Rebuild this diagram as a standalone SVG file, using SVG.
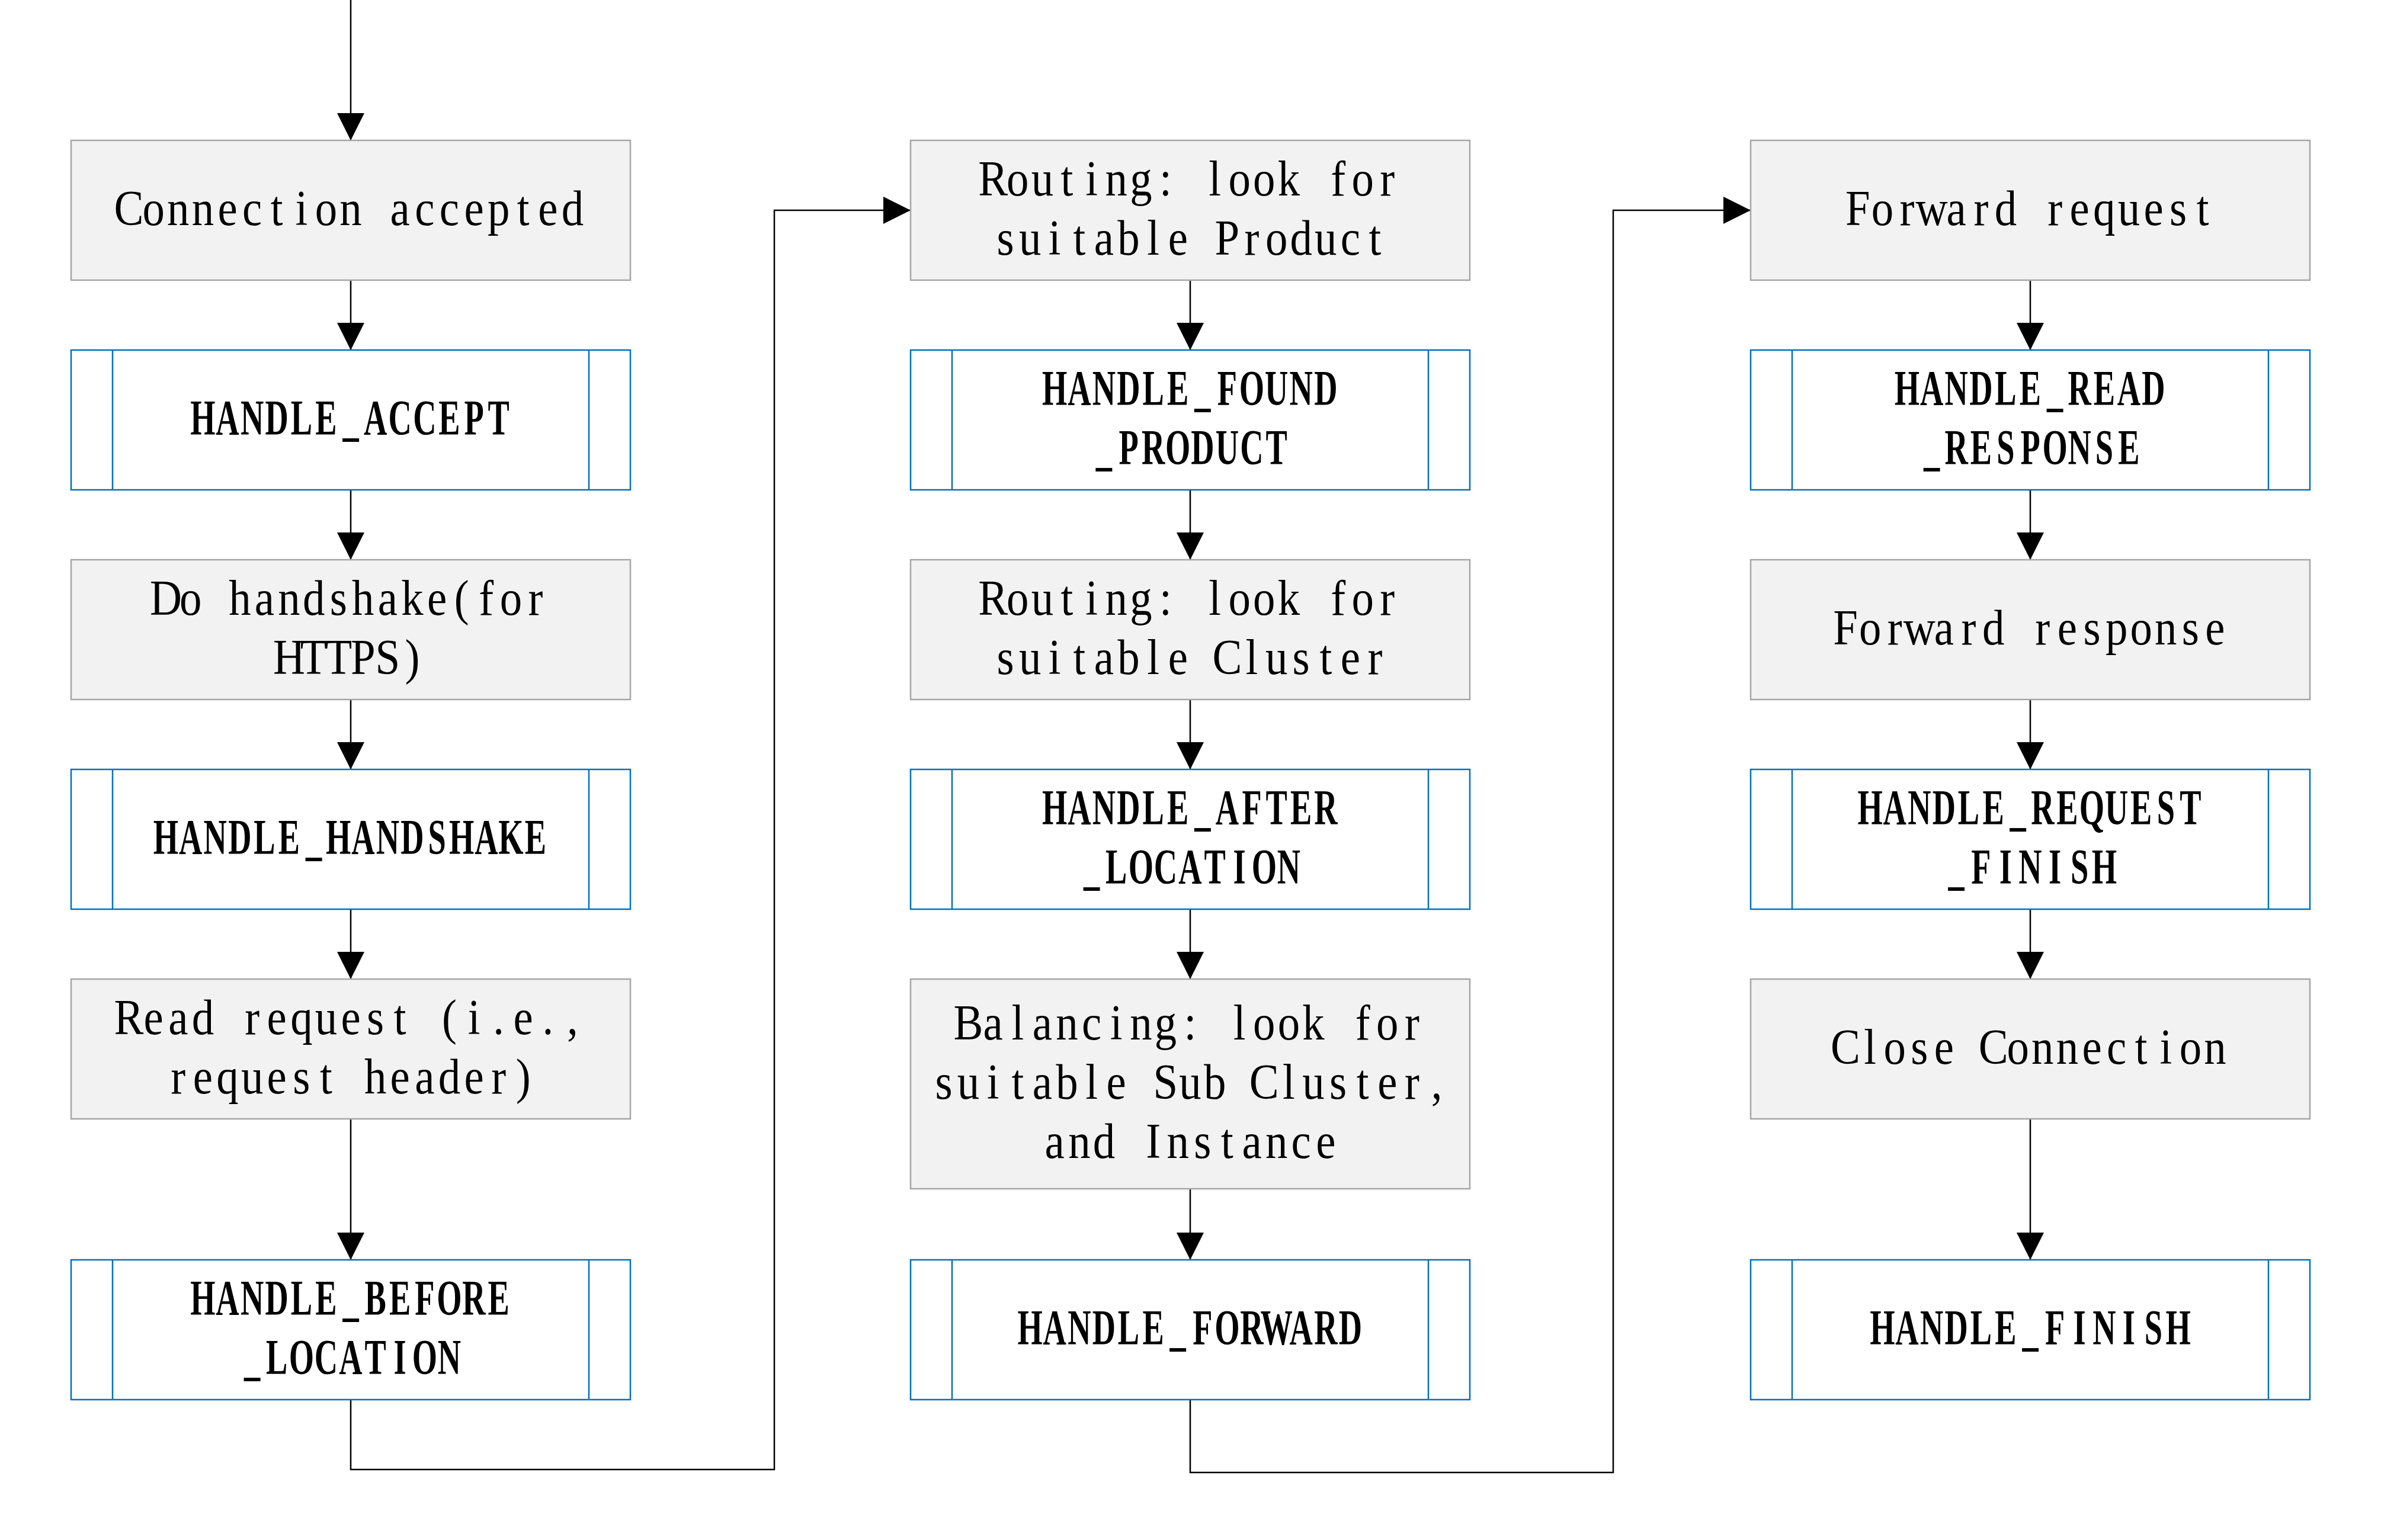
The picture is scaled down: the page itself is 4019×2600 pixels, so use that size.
<svg xmlns="http://www.w3.org/2000/svg" width="4019" height="2600" viewBox="0 0 4019 2600">
<style>
.g{fill:#F2F2F2;stroke:#A6A6A6;stroke-width:2.5}
.b{fill:#FFFFFF;stroke:#0070C0;stroke-width:2.5}
.bl{stroke:#0070C0;stroke-width:2.5}
.t{font-family:"Liberation Serif","Times New Roman",serif;font-size:85px;text-anchor:middle;fill:#000}
.tb{font-family:"Liberation Serif","Times New Roman",serif;font-size:85px;font-weight:bold;text-anchor:middle;fill:#000}
.c{fill:none;stroke:#000;stroke-width:2.5}
</style>
<defs>
<marker id="ah" markerUnits="userSpaceOnUse" markerWidth="46" markerHeight="46" refX="45" refY="22.5" orient="auto" viewBox="0 0 45 45">
<path d="M0,0 L45,22.5 L0,45 Z" fill="#000"/>
</marker>
</defs>
<rect width="4019" height="2600" fill="#FFFFFF"/>

<g id="connectors">
<path class="c" d="M592,0 V237" marker-end="url(#ah)"/>
<path class="c" d="M592,473 V591" marker-end="url(#ah)"/>
<path class="c" d="M592,827 V945" marker-end="url(#ah)"/>
<path class="c" d="M592,1181 V1299" marker-end="url(#ah)"/>
<path class="c" d="M592,1535 V1653" marker-end="url(#ah)"/>
<path class="c" d="M592,1889 V2127" marker-end="url(#ah)"/>
<path class="c" d="M592,2363 V2481 H1307 V355 H1537" marker-end="url(#ah)"/>
<path class="c" d="M2009,473 V591" marker-end="url(#ah)"/>
<path class="c" d="M2009,827 V945" marker-end="url(#ah)"/>
<path class="c" d="M2009,1181 V1299" marker-end="url(#ah)"/>
<path class="c" d="M2009,1535 V1653" marker-end="url(#ah)"/>
<path class="c" d="M2009,2007 V2127" marker-end="url(#ah)"/>
<path class="c" d="M2009,2363 V2486 H2723 V355 H2955" marker-end="url(#ah)"/>
<path class="c" d="M3427,473 V591" marker-end="url(#ah)"/>
<path class="c" d="M3427,827 V945" marker-end="url(#ah)"/>
<path class="c" d="M3427,1181 V1299" marker-end="url(#ah)"/>
<path class="c" d="M3427,1535 V1653" marker-end="url(#ah)"/>
<path class="c" d="M3427,1889 V2127" marker-end="url(#ah)"/>
</g>

<!-- Column 1 -->
<g id="connection-accepted">
<rect class="g" x="120" y="237" width="944" height="236"/>
<text class="t" transform="translate(592,380) scale(0.88,1)" x="-425.5 -378.2 -330.9 -283.7 -236.4 -189.1 -141.8 -94.5 -47.3 0 47.3 94.5 141.8 189.1 236.4 283.7 330.9 378.2 425.5" y="0">Connection accepted</text>
</g>
<g id="handle-accept">
<rect class="b" x="120" y="591" width="944" height="236"/>
<line class="bl" x1="190" y1="591" x2="190" y2="827"/>
<line class="bl" x1="994" y1="591" x2="994" y2="827"/>
<text class="tb" transform="translate(592,734) scale(0.64,1)" x="-390 -325 -260 -195 -130 -65 0 65 130 195 260 325 390" y="0">HANDLE_ACCEPT</text>
</g>
<g id="do-handshake">
<rect class="g" x="120" y="945" width="944" height="236"/>
<text class="t" transform="translate(592,1038) scale(0.88,1)" x="-354.5 -307.3 -260 -212.7 -165.5 -118.2 -70.9 -23.6 23.6 70.9 118.2 165.5 212.7 260 307.3 354.5" y="0">Do handshake(for</text>
<text class="t" transform="translate(592,1138) scale(0.88,1)" x="-118.2 -70.9 -23.6 23.6 70.9 118.2" y="0">HTTPS)</text>
</g>
<g id="handle-handshake">
<rect class="b" x="120" y="1299" width="944" height="236"/>
<line class="bl" x1="190" y1="1299" x2="190" y2="1535"/>
<line class="bl" x1="994" y1="1299" x2="994" y2="1535"/>
<text class="tb" transform="translate(592,1442) scale(0.64,1)" x="-487.5 -422.5 -357.5 -292.5 -227.5 -162.5 -97.5 -32.5 32.5 97.5 162.5 227.5 292.5 357.5 422.5 487.5" y="0">HANDLE_HANDSHAKE</text>
</g>
<g id="read-request">
<rect class="g" x="120" y="1653" width="944" height="236"/>
<text class="t" transform="translate(592,1746) scale(0.88,1)" x="-425.5 -378.2 -330.9 -283.7 -236.4 -189.1 -141.8 -94.5 -47.3 0 47.3 94.5 141.8 189.1 236.4 283.7 330.9 378.2 425.5" y="0">Read request (i.e.,</text>
<text class="t" transform="translate(592,1846) scale(0.88,1)" x="-330.9 -283.7 -236.4 -189.1 -141.8 -94.5 -47.3 0 47.3 94.5 141.8 189.1 236.4 283.7 330.9" y="0">request header)</text>
</g>
<g id="handle-before-location">
<rect class="b" x="120" y="2127" width="944" height="236"/>
<line class="bl" x1="190" y1="2127" x2="190" y2="2363"/>
<line class="bl" x1="994" y1="2127" x2="994" y2="2363"/>
<text class="tb" transform="translate(592,2220) scale(0.64,1)" x="-390 -325 -260 -195 -130 -65 0 65 130 195 260 325 390" y="0">HANDLE_BEFORE</text>
<text class="tb" transform="translate(592,2320) scale(0.64,1)" x="-260 -195 -130 -65 0 65 130 195 260" y="0">_LOCATION</text>
</g>

<!-- Column 2 -->
<g id="routing-product">
<rect class="g" x="1537" y="237" width="944" height="236"/>
<text class="t" transform="translate(2009,330) scale(0.88,1)" x="-378.2 -330.9 -283.7 -236.4 -189.1 -141.8 -94.5 -47.3 0 47.3 94.5 141.8 189.1 236.4 283.7 330.9 378.2" y="0">Routing: look for</text>
<text class="t" transform="translate(2009,430) scale(0.88,1)" x="-354.5 -307.3 -260 -212.7 -165.5 -118.2 -70.9 -23.6 23.6 70.9 118.2 165.5 212.7 260 307.3 354.5" y="0">suitable Product</text>
</g>
<g id="handle-found-product">
<rect class="b" x="1537" y="591" width="944" height="236"/>
<line class="bl" x1="1607" y1="591" x2="1607" y2="827"/>
<line class="bl" x1="2411" y1="591" x2="2411" y2="827"/>
<text class="tb" transform="translate(2009,684) scale(0.64,1)" x="-357.5 -292.5 -227.5 -162.5 -97.5 -32.5 32.5 97.5 162.5 227.5 292.5 357.5" y="0">HANDLE_FOUND</text>
<text class="tb" transform="translate(2009,784) scale(0.64,1)" x="-227.5 -162.5 -97.5 -32.5 32.5 97.5 162.5 227.5" y="0">_PRODUCT</text>
</g>
<g id="routing-cluster">
<rect class="g" x="1537" y="945" width="944" height="236"/>
<text class="t" transform="translate(2009,1038) scale(0.88,1)" x="-378.2 -330.9 -283.7 -236.4 -189.1 -141.8 -94.5 -47.3 0 47.3 94.5 141.8 189.1 236.4 283.7 330.9 378.2" y="0">Routing: look for</text>
<text class="t" transform="translate(2009,1138) scale(0.88,1)" x="-354.5 -307.3 -260 -212.7 -165.5 -118.2 -70.9 -23.6 23.6 70.9 118.2 165.5 212.7 260 307.3 354.5" y="0">suitable Cluster</text>
</g>
<g id="handle-after-location">
<rect class="b" x="1537" y="1299" width="944" height="236"/>
<line class="bl" x1="1607" y1="1299" x2="1607" y2="1535"/>
<line class="bl" x1="2411" y1="1299" x2="2411" y2="1535"/>
<text class="tb" transform="translate(2009,1392) scale(0.64,1)" x="-357.5 -292.5 -227.5 -162.5 -97.5 -32.5 32.5 97.5 162.5 227.5 292.5 357.5" y="0">HANDLE_AFTER</text>
<text class="tb" transform="translate(2009,1492) scale(0.64,1)" x="-260 -195 -130 -65 0 65 130 195 260" y="0">_LOCATION</text>
</g>
<g id="balancing">
<rect class="g" x="1537" y="1653" width="944" height="354"/>
<text class="t" transform="translate(2009,1755) scale(0.88,1)" x="-425.5 -378.2 -330.9 -283.7 -236.4 -189.1 -141.8 -94.5 -47.3 0 47.3 94.5 141.8 189.1 236.4 283.7 330.9 378.2 425.5" y="0">Balancing: look for</text>
<text class="t" transform="translate(2009,1855) scale(0.88,1)" x="-472.7 -425.5 -378.2 -330.9 -283.7 -236.4 -189.1 -141.8 -94.5 -47.3 0 47.3 94.5 141.8 189.1 236.4 283.7 330.9 378.2 425.5 472.7" y="0">suitable Sub Cluster,</text>
<text class="t" transform="translate(2009,1955) scale(0.88,1)" x="-260 -212.7 -165.5 -118.2 -70.9 -23.6 23.6 70.9 118.2 165.5 212.7 260" y="0">and Instance</text>
</g>
<g id="handle-forward">
<rect class="b" x="1537" y="2127" width="944" height="236"/>
<line class="bl" x1="1607" y1="2127" x2="1607" y2="2363"/>
<line class="bl" x1="2411" y1="2127" x2="2411" y2="2363"/>
<text class="tb" transform="translate(2009,2270) scale(0.64,1)" x="-422.5 -357.5 -292.5 -227.5 -162.5 -97.5 -32.5 32.5 97.5 162.5 227.5 292.5 357.5 422.5" y="0">HANDLE_FORWARD</text>
</g>

<!-- Column 3 -->
<g id="forward-request">
<rect class="g" x="2955" y="237" width="944" height="236"/>
<text class="t" transform="translate(3427,380) scale(0.88,1)" x="-330.9 -283.7 -236.4 -189.1 -141.8 -94.5 -47.3 0 47.3 94.5 141.8 189.1 236.4 283.7 330.9" y="0">Forward request</text>
</g>
<g id="handle-read-response">
<rect class="b" x="2955" y="591" width="944" height="236"/>
<line class="bl" x1="3025" y1="591" x2="3025" y2="827"/>
<line class="bl" x1="3829" y1="591" x2="3829" y2="827"/>
<text class="tb" transform="translate(3427,684) scale(0.64,1)" x="-325 -260 -195 -130 -65 0 65 130 195 260 325" y="0">HANDLE_READ</text>
<text class="tb" transform="translate(3427,784) scale(0.64,1)" x="-260 -195 -130 -65 0 65 130 195 260" y="0">_RESPONSE</text>
</g>
<g id="forward-response">
<rect class="g" x="2955" y="945" width="944" height="236"/>
<text class="t" transform="translate(3427,1088) scale(0.88,1)" x="-354.5 -307.3 -260 -212.7 -165.5 -118.2 -70.9 -23.6 23.6 70.9 118.2 165.5 212.7 260 307.3 354.5" y="0">Forward response</text>
</g>
<g id="handle-request-finish">
<rect class="b" x="2955" y="1299" width="944" height="236"/>
<line class="bl" x1="3025" y1="1299" x2="3025" y2="1535"/>
<line class="bl" x1="3829" y1="1299" x2="3829" y2="1535"/>
<text class="tb" transform="translate(3427,1392) scale(0.64,1)" x="-422.5 -357.5 -292.5 -227.5 -162.5 -97.5 -32.5 32.5 97.5 162.5 227.5 292.5 357.5 422.5" y="0">HANDLE_REQUEST</text>
<text class="tb" transform="translate(3427,1492) scale(0.64,1)" x="-195 -130 -65 0 65 130 195" y="0">_FINISH</text>
</g>
<g id="close-connection">
<rect class="g" x="2955" y="1653" width="944" height="236"/>
<text class="t" transform="translate(3427,1796) scale(0.88,1)" x="-354.5 -307.3 -260 -212.7 -165.5 -118.2 -70.9 -23.6 23.6 70.9 118.2 165.5 212.7 260 307.3 354.5" y="0">Close Connection</text>
</g>
<g id="handle-finish">
<rect class="b" x="2955" y="2127" width="944" height="236"/>
<line class="bl" x1="3025" y1="2127" x2="3025" y2="2363"/>
<line class="bl" x1="3829" y1="2127" x2="3829" y2="2363"/>
<text class="tb" transform="translate(3427,2270) scale(0.64,1)" x="-390 -325 -260 -195 -130 -65 0 65 130 195 260 325 390" y="0">HANDLE_FINISH</text>
</g>
</svg>
